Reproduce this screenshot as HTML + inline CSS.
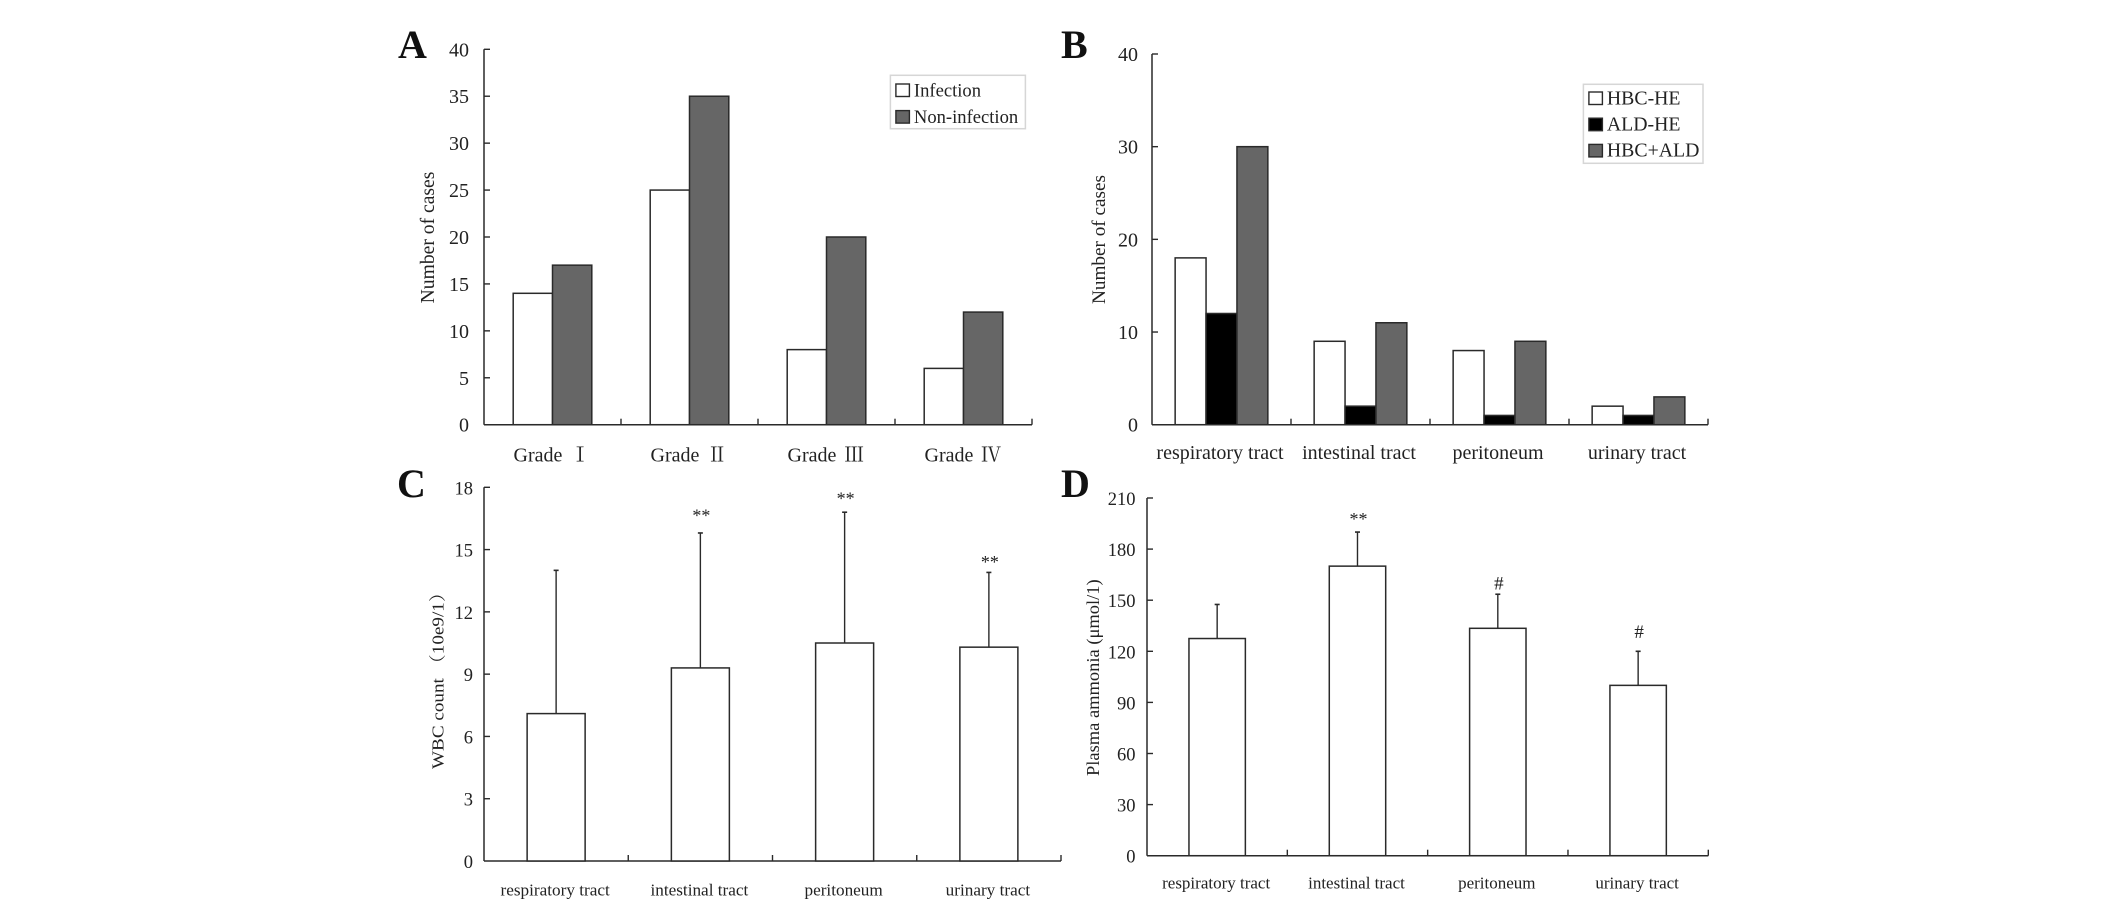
<!DOCTYPE html>
<html lang="en">
<head>
<meta charset="utf-8">
<title>Infection and hepatic encephalopathy charts</title>
<style>
html,body{margin:0;padding:0;background:#fff;}
#figure{display:block;width:2126px;height:920px;background:#fff;}
text{font-family:"Liberation Serif","Noto Serif CJK SC",serif;fill:#222;white-space:pre;}
.panel-letter{font-weight:bold;font-size:40px;fill:#111;}
</style>
</head>
<body>
<svg id="figure" xmlns="http://www.w3.org/2000/svg" width="2126" height="920" viewBox="0 0 2126 920">
  <text class="panel-letter" x="398" y="58">A</text>
  <text class="panel-letter" x="1061" y="58">B</text>
  <text class="panel-letter" x="397" y="497">C</text>
  <text class="panel-letter" x="1061" y="497">D</text>
</svg>
<script>
// Panel A
const gradeCategories = ["Grade Ⅰ", "Grade Ⅱ", "Grade Ⅲ", "Grade Ⅳ"];
const gradeInfection = [14, 25, 8, 6];
const gradeNonInfection = [17, 35, 20, 12];
const gradeTicks = [0, 5, 10, 15, 20, 25, 30, 35, 40];
const gradeSeriesNames = ["Infection", "Non-infection"];

// Panel B
const siteCategories = ["respiratory tract", "intestinal tract", "peritoneum", "urinary tract"];
const siteHbc = [18, 9, 8, 2];
const siteAld = [12, 2, 1, 1];
const siteBoth = [30, 11, 9, 3];
const siteTicks = [0, 10, 20, 30, 40];
const siteSeriesNames = ["HBC-HE", "ALD-HE", "HBC+ALD"];

// Panel C
const wbcMeans = [7.1, 9.3, 10.5, 10.3];
const wbcUpper = [14, 15.8, 16.8, 13.9];
const wbcMarks = ["", "**", "**", "**"];
const wbcMarkLevels = [0, 16.76, 17.58, 14.53];
const wbcTicks = [0, 3, 6, 9, 12, 15, 18];

// Panel D
const ammoniaMeans = [127.5, 170, 133.5, 100];
const ammoniaUpper = [147.5, 190, 153.5, 120];
const ammoniaMarks = ["", "**", "#", "#"];
const ammoniaMarkLevels = [0, 199, 160, 131.5];
const ammoniaTicks = [0, 30, 60, 90, 120, 150, 180, 210];

const svg = document.getElementById('figure');
const NS = 'http://www.w3.org/2000/svg';
const INK = '#2a2a2a';
const FILLS = {white: '#ffffff', black: '#000000', gray: '#666666'};

function make(tag, attrs, parent, content) {
  const node = document.createElementNS(NS, tag);
  Object.keys(attrs).forEach(function (k) { node.setAttribute(k, attrs[k]); });
  if (content !== undefined) node.textContent = content;
  parent.appendChild(node);
  return node;
}

function drawAxes(p, ticks, cats, group) {
  const yScale = function (v) { return p.base - (v / ticks[ticks.length - 1]) * (p.base - p.top); };
  const band = (p.right - p.left) / cats.length;

  const yAxis = make('line', {x1: p.left, x2: p.left, y1: p.top, y2: p.base, stroke: INK, 'stroke-width': 1.5}, group);
  
  
  const xAxis = make('line', {x1: p.left, x2: p.right, y1: p.base, y2: p.base, stroke: INK, 'stroke-width': 1.5}, group);
  
  

  ticks.forEach(function (t) {
    const y = yScale(t);
    if (t !== 0) {
      const mark = make('line', {x1: p.left, x2: p.left + 6, y1: y, y2: y, stroke: INK, 'stroke-width': 1.4}, group);
      
      
    }
    const label = make('text', {x: p.tickX, y: y + 7, 'text-anchor': 'end', 'font-size': p.tickSize}, group, String(t));
    
    
  });

  cats.forEach(function (c, i) {
    const x = p.left + band * (i + 1);
    const mark = make('line', {x1: x, x2: x, y1: p.base - 6, y2: p.base, stroke: INK, 'stroke-width': 1.4}, group);
    
    
    const label = make('text', {x: p.left + band * (i + 0.5) + p.labelShift, y: p.labelY, 'text-anchor': 'middle', 'font-size': p.labelSize, 'word-spacing': p.wordGap || 0}, group, c);
    
    
  });

  const title = make('text', {
    transform: 'translate(' + p.titleX + ' ' + p.titleY + ') rotate(-90)',
    'text-anchor': 'middle', 'font-size': p.titleSize,
    textLength: p.titleLength, lengthAdjust: 'spacingAndGlyphs'
  }, group, p.title);
  
  

  return {yScale: yScale, band: band};
}

function drawGrouped(p, ticks, cats, seriesList, names, fills) {
  const group = make('g', {}, svg);
  
  
  const axes = drawAxes(p, ticks, cats, group);

  cats.forEach(function (c, i) {
    const start = p.left + axes.band * (i + 0.5) - p.barWidth * seriesList.length / 2;
    seriesList.forEach(function (values, s) {
      const y = axes.yScale(values[i]);
      const bar = make('rect', {x: start + s * p.barWidth, y: y, width: p.barWidth, height: p.base - y, fill: fills[s], stroke: INK, 'stroke-width': 1.5}, group);
      
      
    });
  });

  const legend = make('g', {}, group);
  
  
  const box = make('rect', {x: p.legX, y: p.legY, width: p.legW, height: p.legH, fill: '#fff', stroke: '#d6d6d6', 'stroke-width': 1.5}, legend);
  
  
  names.forEach(function (n, s) {
    const swatch = make('rect', {x: p.legX + 5.5, y: p.legRow0 + s * p.legStep, width: 13.5, height: 12.5, fill: fills[s], stroke: INK, 'stroke-width': 1.4}, legend);
    
    
    const label = make('text', {x: p.legX + 23.5, y: p.legRow0 + s * p.legStep + 12.3, 'font-size': p.legSize}, legend, n);
    
    
  });
}

function drawErrorPanel(p, ticks, cats, means, upper, marks, levels) {
  const group = make('g', {}, svg);
  
  
  const axes = drawAxes(p, ticks, cats, group);

  cats.forEach(function (c, i) {
    const cx = p.left + axes.band * (i + 0.5);
    const y = axes.yScale(means[i]);
    const yTop = axes.yScale(upper[i]);
    const err = make('line', {x1: cx, x2: cx, y1: y, y2: yTop, stroke: INK, 'stroke-width': 1.4}, group);
    
    
    const cap = make('line', {x1: cx - 2.5, x2: cx + 2.5, y1: yTop, y2: yTop, stroke: INK, 'stroke-width': 1.6}, group);
    
    
    const bar = make('rect', {x: cx - p.barWidth / 2, y: y, width: p.barWidth, height: p.base - y, fill: '#fff', stroke: INK, 'stroke-width': 1.5}, group);
    
    
    if (marks[i]) {
      const size = marks[i] === '#' ? 19 : 18;
      const drop = marks[i] === '#' ? 0.33 : 0.47;
      const note = make('text', {x: cx + 1, y: axes.yScale(levels[i]) + size * drop, 'text-anchor': 'middle', 'font-size': size}, group, marks[i]);
      
      
    }
  });
}

drawGrouped({
  name: 'chart-cases-by-grade', left: 484, right: 1032, top: 49.3, base: 424.7,
  tickX: 469, tickSize: 20, labelShift: -0.7, labelY: 461.5, labelSize: 20, wordGap: 2.7,
  title: 'Number of cases', titleX: 434, titleY: 237.5, titleSize: 19.6, titleLength: 131.7,
  barWidth: 39.3, legX: 890.4, legY: 75.3, legW: 135, legH: 53.4, legRow0: 84, legStep: 26.6, legSize: 18.6
}, gradeTicks, gradeCategories, [gradeInfection, gradeNonInfection], gradeSeriesNames, [FILLS.white, FILLS.gray]);

drawGrouped({
  name: 'chart-cases-by-site', left: 1152, right: 1708, top: 54, base: 424.7,
  tickX: 1138, tickSize: 20, labelShift: -1.5, labelY: 459, labelSize: 20,
  title: 'Number of cases', titleX: 1105, titleY: 239.5, titleSize: 19.4, titleLength: 129,
  barWidth: 30.9, legX: 1583.4, legY: 84.3, legW: 119.6, legH: 79, legRow0: 92, legStep: 26.2, legSize: 19.8
}, siteTicks, siteCategories, [siteHbc, siteAld, siteBoth], siteSeriesNames, [FILLS.white, FILLS.black, FILLS.gray]);

drawErrorPanel({
  name: 'chart-wbc-count', left: 484, right: 1061, top: 487.3, base: 861,
  tickX: 473, tickSize: 18.5, labelShift: -1, labelY: 895.5, labelSize: 17.2,
  title: 'WBC count （10e9/1）', titleX: 443.5, titleY: 676, titleSize: 17, titleLength: 186,
  barWidth: 58
}, wbcTicks, siteCategories, wbcMeans, wbcUpper, wbcMarks, wbcMarkLevels);

drawErrorPanel({
  name: 'chart-plasma-ammonia', left: 1147, right: 1708.3, top: 498, base: 855.7,
  tickX: 1135.5, tickSize: 18.5, labelShift: -1, labelY: 888.5, labelSize: 17,
  title: 'Plasma ammonia (μmol/1)', titleX: 1099, titleY: 677.7, titleSize: 17.5, titleLength: 196.7,
  barWidth: 56.4
}, ammoniaTicks, siteCategories, ammoniaMeans, ammoniaUpper, ammoniaMarks, ammoniaMarkLevels);
</script>
</body>
</html>
